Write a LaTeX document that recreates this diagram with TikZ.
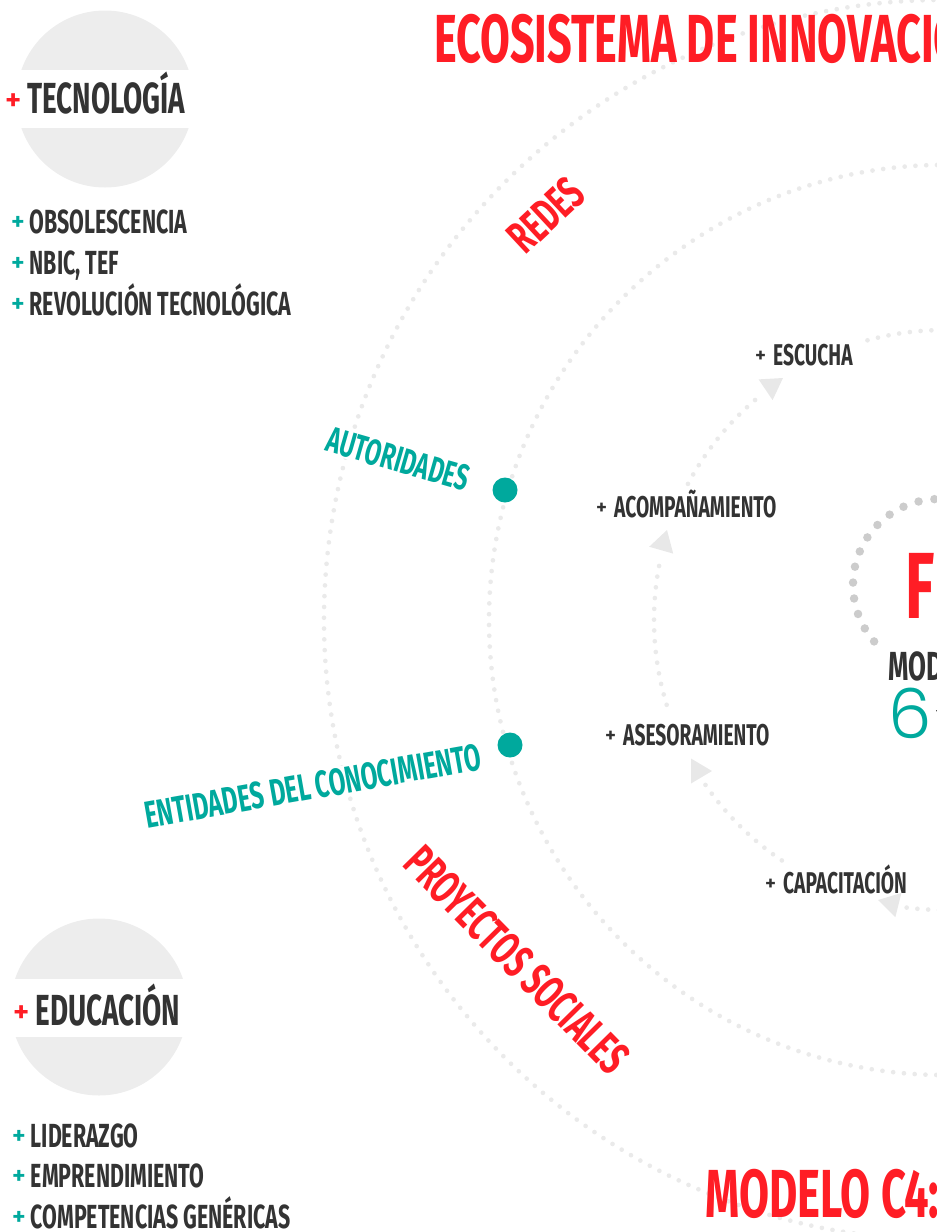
\documentclass[tikz,border=0pt]{standalone}
\usepackage{fontspec}
\usepackage{tikz}
\usetikzlibrary{positioning}
\newfontfamily\bebas[FakeStretch=0.64]{Fira Sans}
\newfontfamily\bebastitle[FakeStretch=0.635]{Fira Sans}
\newfontfamily\plainfira{Fira Sans Light}
\newfontfamily\roundfont{Poppins Light}
\definecolor{c4red}{HTML}{FF1D25}
\definecolor{c4teal}{HTML}{00A99D}
\definecolor{c4dark}{HTML}{333333}
\definecolor{dotgray}{HTML}{EAEAEA}
\definecolor{coregray}{HTML}{CCCCCC}
\definecolor{discgray}{HTML}{EDEDED}
\definecolor{tipgray}{HTML}{E8E8E8}
\newcommand\rplus{{\plainfira\fontsize{31}{31}\selectfont\color{c4red}\raisebox{2.5pt}{+}}\hspace{6pt}}
\newcommand\tplus{{\plainfira\fontsize{26}{26}\selectfont\color{c4teal}\raisebox{3pt}{+}}\hspace{5pt}}
\newcommand\dplus{{\plainfira\fontsize{21}{21}\selectfont\raisebox{3pt}{+}}\hspace{7pt}}
\tikzset{arrowtri/.pic={\fill[tipgray] (0,0) -- (-21,12.5) -- (-21,-12.5) -- cycle;}}

\begin{document}
\begin{tikzpicture}[x=1pt, y=1pt,
  title/.style={font=\bebastitle\bfseries\fontsize{68}{68}\selectfont, text=c4red,
    inner sep=0pt, anchor=base west},
  head/.style={font=\bebas\bfseries\fontsize{43.5}{44}\selectfont, text=c4dark,
    inner sep=0pt, anchor=base west},
  item/.style={font=\bebas\bfseries\fontsize{33.4}{34}\selectfont, text=c4dark,
    inner sep=0pt, anchor=base west},
  stage/.style={font=\bebas\bfseries\fontsize{30}{30}\selectfont, text=c4dark,
    inner sep=0pt, anchor=base west},
  actor/.style={font=\bebas\bfseries\fontsize{36.3}{36}\selectfont, text=c4teal,
    fill=white, inner sep=1pt},
  field/.style={font=\bebas\bfseries\fontsize{46}{46}\selectfont, text=c4red,
    inner sep=0pt},
  disc/.style={circle, fill=discgray, minimum size=177pt, inner sep=0pt},
  tealdot/.style={circle, fill=c4teal, minimum size=25pt, inner sep=0pt},
  dotring/.style={draw=dotgray, line width=4.7pt, line cap=round,
    dash pattern=on 0pt off 10.8pt},
  coredots/.style={draw=coregray, line width=8.5pt, line cap=round,
    dash pattern=on 0pt off 16pt}
]
\useasboundingbox (0,0) rectangle (937,-1232);
\clip (0,0) rectangle (937,-1232);

\coordinate (hub) at (944,-620);
\coordinate (core) at (939,-585);

% outer rings of the ecosystem
\draw[dotring] ([shift={(80:620pt)}]hub) arc[start angle=80, end angle=280, radius=620pt];
\draw[dotring] ([shift={(80:455pt)}]hub) arc[start angle=80, end angle=280, radius=455pt];

% service cycle
\draw[dotring] ([shift={(105.3:290pt)}]hub) arc[start angle=105.3, end angle=70, radius=290pt];
\draw[dotring] ([shift={(152:290pt)}]hub) arc[start angle=152, end angle=129.5, radius=290pt];
\draw[dotring] ([shift={(197:290pt)}]hub) arc[start angle=197, end angle=167.7, radius=290pt];
\draw[dotring] ([shift={(236:290pt)}]hub) arc[start angle=236, end angle=214.3, radius=290pt];
\draw[dotring] ([shift={(262.6:290pt)}]hub) arc[start angle=262.6, end angle=300, radius=290pt];
\pic[rotate=34] at (783,-378) {arrowtri};
\pic[rotate=74] at (667,-530) {arrowtri};
\pic at (712,-771) {arrowtri};
\pic[rotate=166] at (878,-900) {arrowtri};

\draw[coredots] ([shift={(221:86pt)}]core) arc[start angle=221, end angle=40, radius=86pt];

\node[title] (eco) at (434,-62) {ECOSISTEMA DE INNOVACIÓN};

% tecnologia
\node[disc] (tecdisc) at (105,-99) {};
\fill[white] (10,-70) rectangle (200,-128);
\node[head] (tec) at (5,-113) {\rplus TECNOLOGÍA};
\node[item] (obs) at (11,-233) {\tplus OBSOLESCENCIA};
\node[item, below=41pt of obs.base west, anchor=base west] (nbic) {\tplus NBIC, TEF};
\node[item, below=41pt of nbic.base west, anchor=base west] (revo) {\tplus REVOLUCIÓN TECNOLÓGICA};

% educacion
\node[disc] (edudisc) at (99,-1007) {};
\fill[white] (5,-979) rectangle (195,-1037);
\node[head] (edu) at (13,-1025) {\rplus EDUCACIÓN};
\node[item] (lid) at (12,-1147) {\tplus LIDERAZGO};
\node[item, below=40pt of lid.base west, anchor=base west] (empr) {\tplus EMPRENDIMIENTO};
\node[item, below=41pt of empr.base west, anchor=base west] (comp) {\tplus COMPETENCIAS GENÉRICAS};

% actors on the rings
\node[field, rotate=43] (redes) at (546,-215) {REDES};
\node[field, rotate=-45.5, font=\bebas\bfseries\fontsize{47}{47}\selectfont] (proy) at (517,-960) {PROYECTOS SOCIALES};
\node[tealdot] (autdot) at (505,-490) {};
\node[tealdot] (entdot) at (510,-745) {};
\node[actor, rotate=-16] (aut) at (398,-459) {AUTORIDADES};
\node[actor, rotate=10, font=\bebas\bfseries\fontsize{37.8}{38}\selectfont] (ent) at (313,-786) {ENTIDADES DEL CONOCIMIENTO};

% cycle labels
\node[stage] (escucha) at (755,-365) {\dplus ESCUCHA};
\node[stage] (acomp) at (596,-517) {\dplus ACOMPAÑAMIENTO};
\node[stage] (ases) at (605,-745) {\dplus ASESORAMIENTO};
\node[stage] (capac) at (765,-893) {\dplus CAPACITACIÓN};

% centre
\node[title, font=\bebas\bfseries\fontsize{94}{94}\selectfont] (bigf) at (905,-618) {F};
\node[head, font=\bebas\bfseries\fontsize{40.6}{41}\selectfont] (mod) at (888,-680) {MODELO};
\node[anchor=base west, inner sep=0pt, text=c4teal, font=\roundfont\fontsize{69}{69}\selectfont] (six) at (888,-738) {6};
\node[inner sep=0pt, text=c4dark, font=\plainfira\fontsize{22}{22}\selectfont] (sixplus) at (940,-713) {+};

\node[title, font=\bebas\bfseries\fontsize{68}{68}\selectfont] (c4) at (705,-1217) {MODELO C4:};
\end{tikzpicture}
\end{document}
